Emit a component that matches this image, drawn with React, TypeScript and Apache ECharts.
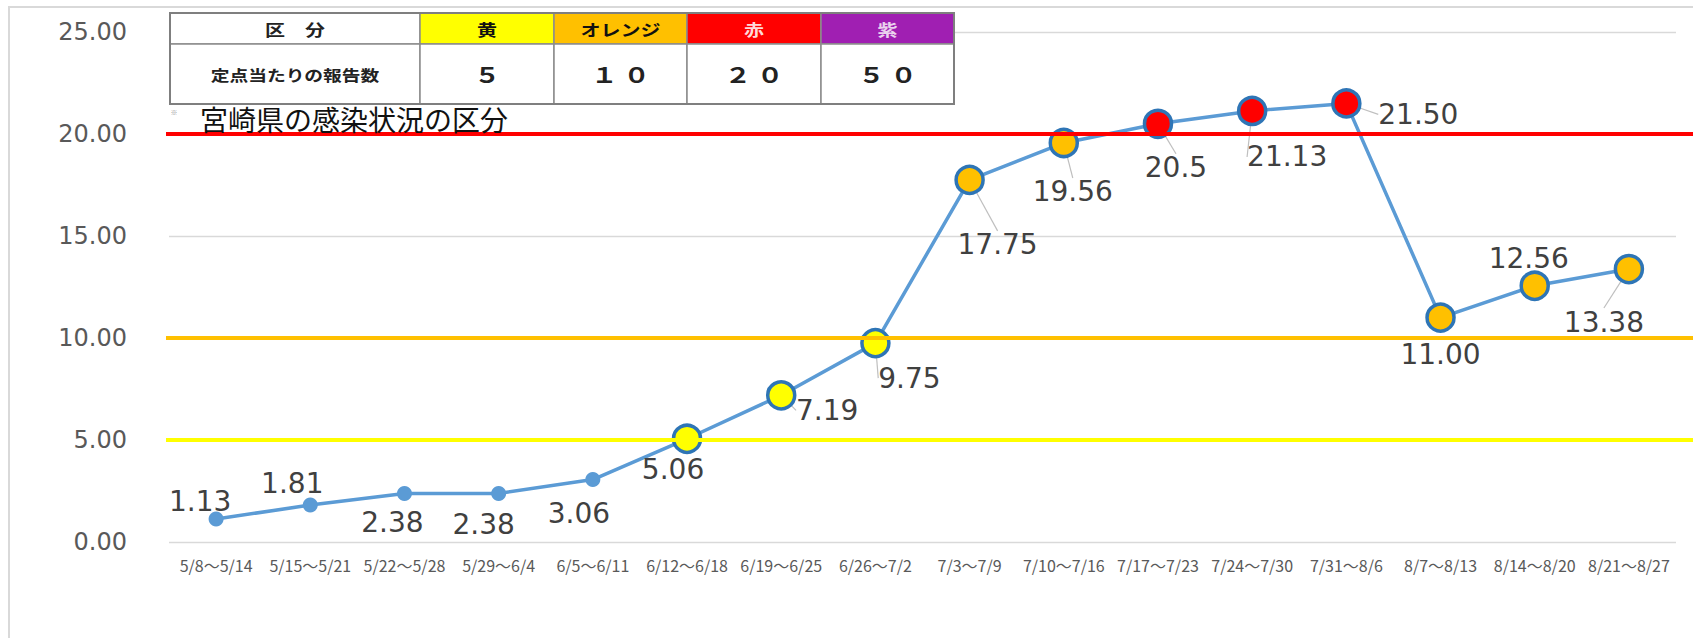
import React, { useEffect, useRef } from "react";
import * as echarts from "echarts";

const categories = [
  "5/8～5/14", "5/15～5/21", "5/22～5/28", "5/29～6/4", "6/5～6/11", "6/12～6/18",
  "6/19～6/25", "6/26～7/2", "7/3～7/9", "7/10～7/16", "7/17～7/23", "7/24～7/30",
  "7/31～8/6", "8/7～8/13", "8/14～8/20", "8/21～8/27",
];
const reports = [1.13, 1.81, 2.38, 2.38, 3.06, 5.06, 7.19, 9.75, 17.75, 19.56, 20.5, 21.13, 21.5, 11.0, 12.56, 13.38];
const reportLabels = ["1.13", "1.81", "2.38", "2.38", "3.06", "5.06", "7.19", "9.75", "17.75", "19.56", "20.5", "21.13", "21.50", "11.00", "12.56", "13.38"];

const levelNames = ["黄", "オレンジ", "赤", "紫"];
const levelThresholds = [5, 10, 20, 50];
const tableHead = "区　分";
const tableRowHead = "定点当たりの報告数";
const titleText = "宮崎県の感染状況の区分";

const yMin = 0;
const yMax = 25;
const yInterval = 5;

// styling / layout (not data)
const levelColors = ["#FFFF00", "#FFC000", "#FF0000", "#A01FB2"];
const levelTextColors = ["#111111", "#111111", "#ffd9d9", "#ead2ee"];
const labelOffsets: [number, number][] = [
  [-16, -17], [-18, -22], [-12, 29], [-15, 31], [-14, 34], [-14, 31], [46, 15], [34, 35],
  [28, 65], [9, 49], [18, 44], [35, 46], [72, 11], [0, 37], [-6, -27], [-25, 53],
];
const leaderShown = [false, false, false, false, false, false, true, true, true, true, true, true, true, false, false, true];
const tableXs = [170, 420, 554, 687, 821, 954];
const tableYs = [13, 44, 104];
const tableStretch = 1.25;

const toFullWidth = (n: number) =>
  String(n)
    .split("")
    .map((d) => String.fromCharCode(d.charCodeAt(0) + 0xfee0))
    .join(" ");

function levelIndex(v: number) {
  let idx = -1;
  levelThresholds.forEach((t, i) => {
    if (v >= t) idx = i;
  });
  return idx;
}

function buildTable() {
  const els: any[] = [];
  const cols = tableXs.length - 1;
  for (let c = 0; c < cols; c++) {
    const x0 = tableXs[c];
    const w = tableXs[c + 1] - x0;
    els.push({
      type: "rect",
      shape: { x: x0, y: tableYs[0], width: w, height: tableYs[1] - tableYs[0] },
      style: { fill: c === 0 ? "#ffffff" : levelColors[c - 1], stroke: "#8c8c8c", lineWidth: 1.5 },
      z: 10,
    });
    els.push({
      type: "rect",
      shape: { x: x0, y: tableYs[1], width: w, height: tableYs[2] - tableYs[1] },
      style: { fill: "#ffffff", stroke: "#8c8c8c", lineWidth: 1.5 },
      z: 10,
    });
    const cx = x0 + w / 2;
    els.push({
      type: "text",
      x: cx,
      y: (tableYs[0] + tableYs[1]) / 2,
      scaleX: tableStretch,
      style: {
        text: c === 0 ? tableHead : levelNames[c - 1],
        textAlign: "center",
        textVerticalAlign: "middle",
        font: 'bold 16px "Noto Sans CJK JP"',
        fill: c === 0 ? "#222" : levelTextColors[c - 1],
      },
      z: 11,
    });
    els.push({
      type: "text",
      x: cx,
      y: (tableYs[1] + tableYs[2]) / 2,
      scaleX: tableStretch,
      style: {
        text: c === 0 ? tableRowHead : toFullWidth(levelThresholds[c - 1]),
        textAlign: "center",
        textVerticalAlign: "middle",
        font: c === 0 ? 'bold 15px "Noto Sans CJK JP"' : 'bold 21px "Noto Sans CJK JP"',
        fill: "#222",
      },
      z: 11,
    });
  }
  els.push({
    type: "rect",
    shape: { x: tableXs[0], y: tableYs[0], width: tableXs[cols] - tableXs[0], height: tableYs[2] - tableYs[0] },
    style: { fill: "none", stroke: "#7f7f7f", lineWidth: 2 },
    z: 12,
  });
  return els;
}

export default function App() {
  const ref = useRef<HTMLDivElement>(null);

  useEffect(() => {
    if (!ref.current) return;
    const chart = echarts.init(ref.current, null, { renderer: "svg" });

    const mainData = reports.map((v, i) => {
      const lvl = levelIndex(v);
      const big = lvl >= 0;
      return {
        value: v,
        symbolSize: big ? 27 : 15,
        itemStyle: big
          ? { color: levelColors[lvl], borderColor: "#2E75B6", borderWidth: 3.5 }
          : { color: "#5B9BD5", borderWidth: 0 },
        labelLine: { show: leaderShown[i] },
      };
    });

    const option: any = {
      animation: false,
      backgroundColor: "#ffffff",
      grid: [
        { left: 169, right: 17, top: 32, bottom: 96 },
        { left: 166, right: 0, top: 32, bottom: 96 },
      ],
      xAxis: [
        {
          type: "category",
          data: categories,
          boundaryGap: true,
          axisLine: { show: false },
          axisTick: { show: false },
          splitLine: { show: false },
          axisLabel: {
            interval: 0,
            fontSize: 16,
            fontFamily: '"Noto Sans CJK JP"',
            color: "#595959",
            margin: 15,
          },
        },
        { type: "value", gridIndex: 1, show: false, min: 0, max: 1 },
      ],
      yAxis: [
        {
          type: "value",
          min: yMin,
          max: yMax,
          interval: yInterval,
          axisLine: { show: false },
          axisTick: { show: false },
          splitLine: { lineStyle: { color: "#d9d9d9", width: 1.3 } },
          axisLabel: {
            formatter: (v: number) => v.toFixed(2),
            fontSize: 24,
            fontFamily: '"DejaVu Sans"',
            color: "#595959",
            margin: 42,
          },
        },
        { type: "value", gridIndex: 1, show: false, min: yMin, max: yMax },
      ],
      series: [
        {
          type: "line",
          xAxisIndex: 1,
          yAxisIndex: 1,
          data: [],
          z: 1,
          silent: true,
          markLine: {
            silent: true,
            symbol: ["none", "none"],
            label: { show: false },
            animation: false,
            data: levelThresholds
              .map((t, i) => ({ t, i }))
              .filter((d) => d.t <= yMax)
              .map((d) => ({ yAxis: d.t, lineStyle: { color: levelColors[d.i], width: 4, type: "solid" } })),
          },
        },
        {
          type: "line",
          data: mainData,
          z: 3,
          symbol: "circle",
          lineStyle: { color: "#5B9BD5", width: 3.5 },
          label: {
            show: true,
            position: "inside",
            formatter: (p: any) => reportLabels[p.dataIndex],
            fontSize: 28,
            fontFamily: '"DejaVu Sans"',
            color: "#404040",
          },
          labelLayout: (p: any) => ({
            dx: labelOffsets[p.dataIndex][0],
            dy: labelOffsets[p.dataIndex][1],
          }),
          labelLine: { show: false, lineStyle: { color: "#bfbfbf", width: 1.2 } },
        },
      ],
      graphic: [
        {
          type: "rect",
          shape: { x: 9, y: 7, width: 2000, height: 2000 },
          style: { fill: "none", stroke: "#d9d9d9", lineWidth: 2 },
          z: 0,
          silent: true,
        },
        ...buildTable(),
        {
          type: "text",
          x: 174,
          y: 112,
          style: { text: "※", font: '7px "Noto Sans CJK JP"', fill: "#999", textAlign: "center", textVerticalAlign: "middle" },
          z: 11,
        },
        {
          type: "text",
          x: 200,
          y: 119,
          style: {
            text: titleText,
            font: '28px "Noto Sans CJK JP"',
            fill: "#111111",
            textVerticalAlign: "middle",
          },
          z: 11,
        },
      ],
    };

    chart.setOption(option);
    return () => chart.dispose();
  }, []);

  return (
    <div
      ref={ref}
      style={{ position: "fixed", left: 0, top: 0, width: 1693, height: 638, background: "#ffffff" }}
    />
  );
}
